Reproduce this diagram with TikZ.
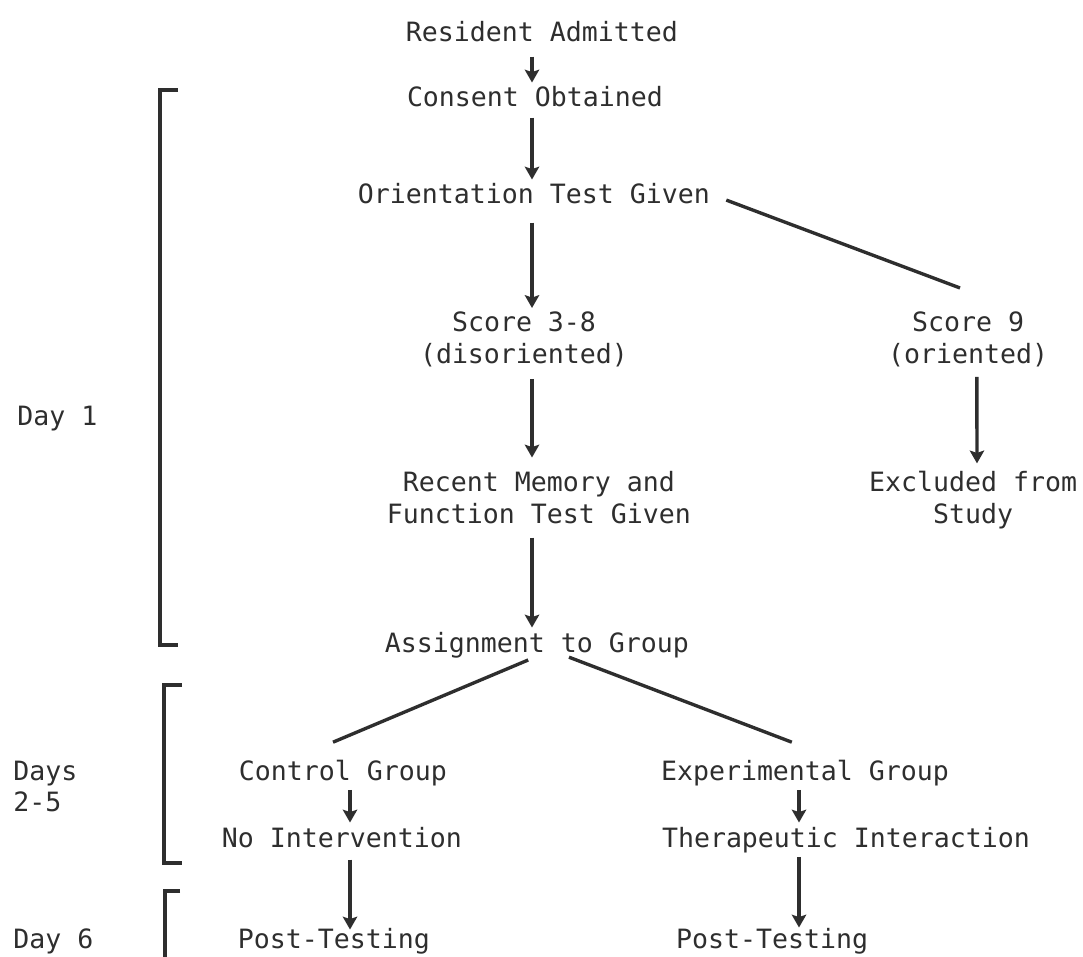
\documentclass[tikz,border=0pt]{standalone}
\usepackage{fontspec}
\setmainfont{DejaVu Sans Mono}
\usetikzlibrary{arrows.meta}
\definecolor{ink}{HTML}{2E2E2E}

\begin{document}
\begin{tikzpicture}[x=0.025cm, y=-0.025cm,
		lbl/.style={anchor=base, align=center, inner sep=0.1cm, text=ink,
			font=\fontsize{18.9}{22.05}\selectfont},
		arr/.style={draw=ink, line width=2.4pt, -{Stealth[length=0.32cm, width=0.36cm, inset=0.06cm]}},
		link/.style={draw=ink, line width=2.4pt},
		brk/.style={draw=ink, line width=2.4pt}]
		\useasboundingbox (0,0) rectangle (1083,957);

		% Day 1
		\node[lbl] (res) at (542,42) {Resident Admitted};
		\node[lbl] (cons) at (535,107) {Consent Obtained};
		\node[lbl] (ori) at (534,204) {Orientation Test Given};
		\node[lbl] (dis) at (524,363) {Score 3-8\\(disoriented)};
		\node[lbl] (ornt) at (968,363) {Score 9\\(oriented)};
		\node[lbl] (mem) at (539,523) {Recent Memory and\\Function Test Given};
		\node[lbl] (excl) at (973,523) {Excluded from\\Study};
		\node[lbl] (asg) at (537,652) {Assignment to Group};
		\coordinate (colA) at (532,0);
		\draw[arr, shorten <=0.25cm] (res.south -| colA) -- (cons.north -| colA);
		\draw[arr, shorten <=0.15cm] (cons.south -| colA) -- (ori.north -| colA);
		\draw[arr, shorten <=0.35cm] (ori.south -| colA) -- (dis.north -| colA);
		\draw[arr, shorten <=0.2cm, shorten >=0.25cm] (dis.south -| colA) -- (mem.north -| colA);
		\draw[arr, shorten <=0.25cm] (mem.south -| colA) -- (asg.north -| colA);
		\draw[link] ([xshift=0.3cm, yshift=-0.15cm]ori.east) -- ([xshift=-0.2cm, yshift=0.5cm]ornt.north);
		\draw[arr, shorten <=0.15cm, shorten >=0.1cm] ([xshift=0.22cm]ornt.south) -- ([xshift=0.1cm]excl.north);

		% Days 2-5
		\node[lbl] (ctl) at (343,780) {Control Group};
		\node[lbl] (noint) at (342,847) {No Intervention};
		\node[lbl] (exp) at (805,780) {Experimental Group};
		\node[lbl] (ther) at (846,847) {Therapeutic Interaction};
		\draw[link] ([xshift=-0.22cm, yshift=0.05cm]asg.south) -- ([xshift=-0.25cm, yshift=0.33cm]ctl.north);
		\draw[link] ([xshift=0.8cm, yshift=0.12cm]asg.south) -- ([xshift=-0.33cm, yshift=0.33cm]exp.north);
		\draw[arr] (ctl.south -| noint) ++(0.2cm,0) coordinate (c1) -- (c1 |- noint.north);
		\draw[arr] ([xshift=-0.15cm]exp.south) -- ([xshift=-0.15cm]exp.south |- ther.north);

		% Day 6
		\node[lbl] (post1) at (334,948) {Post-Testing};
		\node[lbl] (post2) at (772,948) {Post-Testing};
		\draw[arr, shorten <=0.2cm, shorten >=-0.15cm] (c1 |- noint.south) -- (c1 |- post1.north);
		\draw[arr, shorten >=-0.1cm] ([xshift=-0.15cm]exp.south |- ther.south) -- ([xshift=-0.15cm]exp.south |- post2.north);

		% day brackets
		\node[lbl, anchor=base west] (d1) at (13,425) {Day 1};
		\node[lbl, anchor=base west, align=left] (d25) at (9,811) {Days\\2-5};
		\node[lbl, anchor=base west] (d6) at (9,948) {Day 6};
		\draw[brk] (178,90) -- (160,90) -- (160,645) -- (178,645);
		\draw[brk] (182,685) -- (164,685) -- (164,863) -- (182,863);
		\draw[brk] (180,891) -- (165,891) -- (165,957);
	\end{tikzpicture}
\end{document}
